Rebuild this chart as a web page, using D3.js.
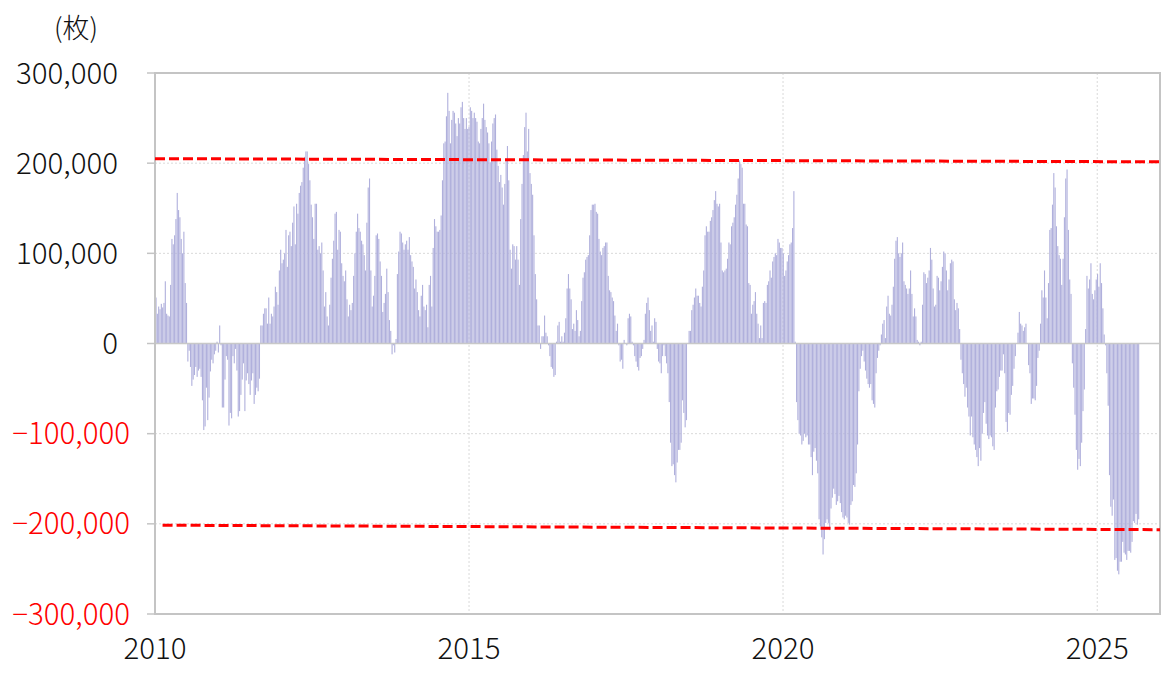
<!DOCTYPE html>
<html><head><meta charset="utf-8">
<script src="https://cdn.jsdelivr.net/npm/d3@7"></script>
<style>
body{margin:0;background:#fff}
text{font-family:"Noto Sans CJK JP","Noto Sans",sans-serif;font-weight:300}
</style>
</head><body><svg id="chart" width="1171" height="675"></svg>
<script>
// ---- data ----
const unitLabel = "(枚)";
const seriesStart = "2010-01-07";
const seriesEnd = "2025-08-30";
// net position, thousands of contracts, evenly spaced from seriesStart to seriesEnd
const netPositionK = [
51,33,41,38,44,40,45,69,33,31,30,65,116,110,120,138,167,148,140,116,100,124,67,45,-20,-8,-26,-47,-40,-35,-26,-37,-30,-28,-37,-63,-96,-92,-49,-85,-60,-31,-18,-22,-12,-8,2,-10,20,-2,-71,-71,-40,-14,-18,-91,-77,-83,-14,-22,-6,-30,-81,
-75,-57,-40,-22,-75,-41,-33,-45,-57,-41,-33,-67,-57,-49,-53,-39,20,20,33,39,39,22,51,22,33,30,41,63,57,43,81,104,89,93,100,126,85,120,124,108,134,152,110,155,144,167,175,179,195,207,213,213,199,181,154,140,116,155,155,104,108,100,112,81,41,57,30,20,
43,73,94,114,144,146,104,126,124,89,75,69,81,49,30,43,37,45,75,100,124,144,128,124,114,110,98,81,134,173,183,81,41,53,75,120,122,116,91,75,35,45,55,83,57,26,14,-12,-2,-10,5,77,102,124,122,112,104,110,114,104,118,98,91,85,61,71,57,37,
30,53,65,41,37,43,18,65,75,41,106,138,130,124,124,126,142,181,222,224,252,278,258,222,248,258,256,244,230,250,244,262,268,250,238,250,238,240,262,258,250,256,250,246,224,222,238,250,266,248,240,234,222,201,224,244,250,254,215,197,179,187,173,154,177,203,219,181,
104,83,110,108,93,108,93,65,138,177,209,240,256,213,238,189,177,165,120,77,49,20,20,-6,8,8,31,12,8,-2,-14,-26,-28,-37,-35,2,20,24,2,8,2,12,28,61,77,61,49,16,22,14,37,26,8,14,47,73,79,93,96,98,120,148,154,154,155,146,144,116,
102,98,106,108,112,112,75,59,57,51,47,31,14,22,-2,-20,-18,-28,4,0,-2,28,33,30,2,-2,-14,-20,-26,-30,-16,-14,-6,4,33,45,51,37,14,20,2,28,24,-6,-20,-22,-33,-14,-2,-14,-22,-33,-65,-110,-136,-134,-146,-154,-132,-118,-118,-110,-63,-77,-93,-85,0,14,
14,37,43,51,61,53,53,45,41,63,81,120,130,124,124,136,140,148,159,169,155,152,155,112,81,79,81,83,94,112,110,130,134,140,154,165,183,203,199,195,155,155,132,130,67,65,33,43,47,57,33,22,6,20,6,45,47,45,65,69,81,73,91,96,100,98,116,112,
106,106,100,75,81,91,98,110,112,128,169,2,-65,-85,-100,-102,-112,-108,-100,-104,-102,-112,-112,-126,-146,-120,-116,-130,-144,-195,-203,-215,-234,-217,-199,-195,-199,-207,-183,-171,-161,-167,-179,-175,-169,-177,-187,-193,-195,-191,-193,-199,-201,-179,-175,-157,-159,-144,-112,-53,-28,-14,-8,-20,-30,-39,-45,-49,
-45,-63,-67,-71,-33,-16,-8,-2,10,22,26,6,41,53,33,31,43,63,94,114,118,100,96,100,112,69,65,61,55,61,81,55,30,39,30,4,2,-2,2,43,79,77,67,73,81,106,93,61,41,43,75,73,59,69,85,102,100,81,59,71,89,93,91,49,37,45,39,16,
-18,-33,-45,-59,-49,-71,-81,-102,-81,-104,-112,-118,-126,-136,-116,-130,-100,-77,-65,-89,-102,-106,-102,-104,-114,-118,-71,-53,-51,-37,-30,-30,-12,-33,-87,-98,-77,-79,-57,-47,-28,-14,0,12,35,22,20,14,18,22,0,-24,-33,-67,-61,-61,-63,-47,-16,-8,22,59,51,81,51,28,67,126,
128,154,189,173,130,108,98,94,65,94,140,183,193,126,71,55,-22,-49,-79,-118,-140,-128,-136,-110,-75,-51,16,75,61,71,89,55,49,59,71,77,63,89,67,39,10,-2,-33,-69,-146,-181,-191,-173,-240,-238,-252,-256,-242,-242,-220,-232,-234,-240,-230,-230,-232,-220,-197,-199,-189,-201,-195
];
const yTickValues = [-300000,-200000,-100000,0,100000,200000,300000];
const xTickYears = [2010, 2015, 2020, 2025];
const upperBand = [{date:"2010-01-01", value:205000},{date:"2026-01-01", value:201500}];
const lowerBand = [{date:"2010-02-14", value:-201500},{date:"2026-01-01", value:-206500}];

(function draw(){
const svg = d3.select("#chart");
const pL = 155, pR = 1160, pT = 73, pB = 614;
const parse = d3.timeParse("%Y-%m-%d");
const x = d3.scaleTime().domain([new Date(2010,0,1), new Date(2026,0,1)]).range([pL, pR]);
const y = d3.scaleLinear().domain([-300000, 300000]).range([pB, pT]);

const t0 = parse(seriesStart).getTime(), t1 = parse(seriesEnd).getTime();
const n = netPositionK.length;
const data = netPositionK.map((v, i) => ({date: new Date(t0 + (t1 - t0) * i / (n - 1)), value: v * 1000}));

// gridlines
const grid = svg.append("g");
grid.selectAll("line.h").data(yTickValues.filter(v => v !== 0 && Math.abs(v) !== 300000)).enter().append("line")
  .attr("x1", pL).attr("x2", pR).attr("y1", d => y(d)).attr("y2", d => y(d))
  .attr("stroke", "#d9d9d9").attr("stroke-width", 1).attr("stroke-dasharray", "2,2");
grid.selectAll("line.v").data(xTickYears.slice(1)).enter().append("line")
  .attr("x1", d => x(new Date(d,0,1))).attr("x2", d => x(new Date(d,0,1)))
  .attr("y1", pT).attr("y2", pB)
  .attr("stroke", "#d9d9d9").attr("stroke-width", 1).attr("stroke-dasharray", "2,2");

// bars
const bw = 1.1;
svg.append("g").selectAll("rect").data(data).enter().append("rect")
  .attr("x", d => x(d.date) - bw/2)
  .attr("width", bw)
  .attr("y", d => y(Math.max(0, d.value)))
  .attr("height", d => Math.abs(y(d.value) - y(0)))
  .attr("fill", "#b0b0dc");

// zero line
svg.append("line").attr("x1", pL).attr("x2", pR).attr("y1", y(0)).attr("y2", y(0))
  .attr("stroke", "#c8c8c8").attr("stroke-width", 1.5);

// frame
svg.append("rect").attr("x", pL).attr("y", pT).attr("width", pR-pL).attr("height", pB-pT)
  .attr("fill", "none").attr("stroke", "#c4c4c4").attr("stroke-width", 2);

// y ticks
svg.append("g").selectAll("line").data(yTickValues).enter().append("line")
  .attr("x1", pL - 8).attr("x2", pL).attr("y1", d => y(d)).attr("y2", d => y(d))
  .attr("stroke", "#c4c4c4").attr("stroke-width", 1.5);

// red dashed lines
const line = d3.line().x(d => x(parse(d.date))).y(d => y(d.value));
[upperBand, lowerBand].forEach(b => {
  svg.append("path").attr("d", line(b)).attr("fill", "none")
    .attr("stroke", "#ff0000").attr("stroke-width", 3).attr("stroke-dasharray", "10,4");
});

// y labels
const fmt = d3.format(",");
svg.append("g").selectAll("text").data(yTickValues).enter().append("text")
  .attr("x", d => d < 0 ? 130 : 118)
  .attr("y", d => y(d) + 10.5)
  .attr("text-anchor", "end")
  .attr("font-size", 29.5)
  .attr("fill", d => d < 0 ? "#ff0000" : "#111")
  .text(d => fmt(d));

// x labels
svg.append("g").selectAll("text").data(xTickYears).enter().append("text")
  .attr("x", d => x(new Date(d,0,1)))
  .attr("y", 659)
  .attr("text-anchor", "middle")
  .attr("font-size", 29.5)
  .attr("fill", "#111")
  .text(d => d);

// unit label
svg.append("text").attr("x", 76).attr("y", 38).attr("text-anchor", "middle")
  .attr("font-size", 27).attr("fill", "#111").text(unitLabel);
})();
</script>
</body></html>
